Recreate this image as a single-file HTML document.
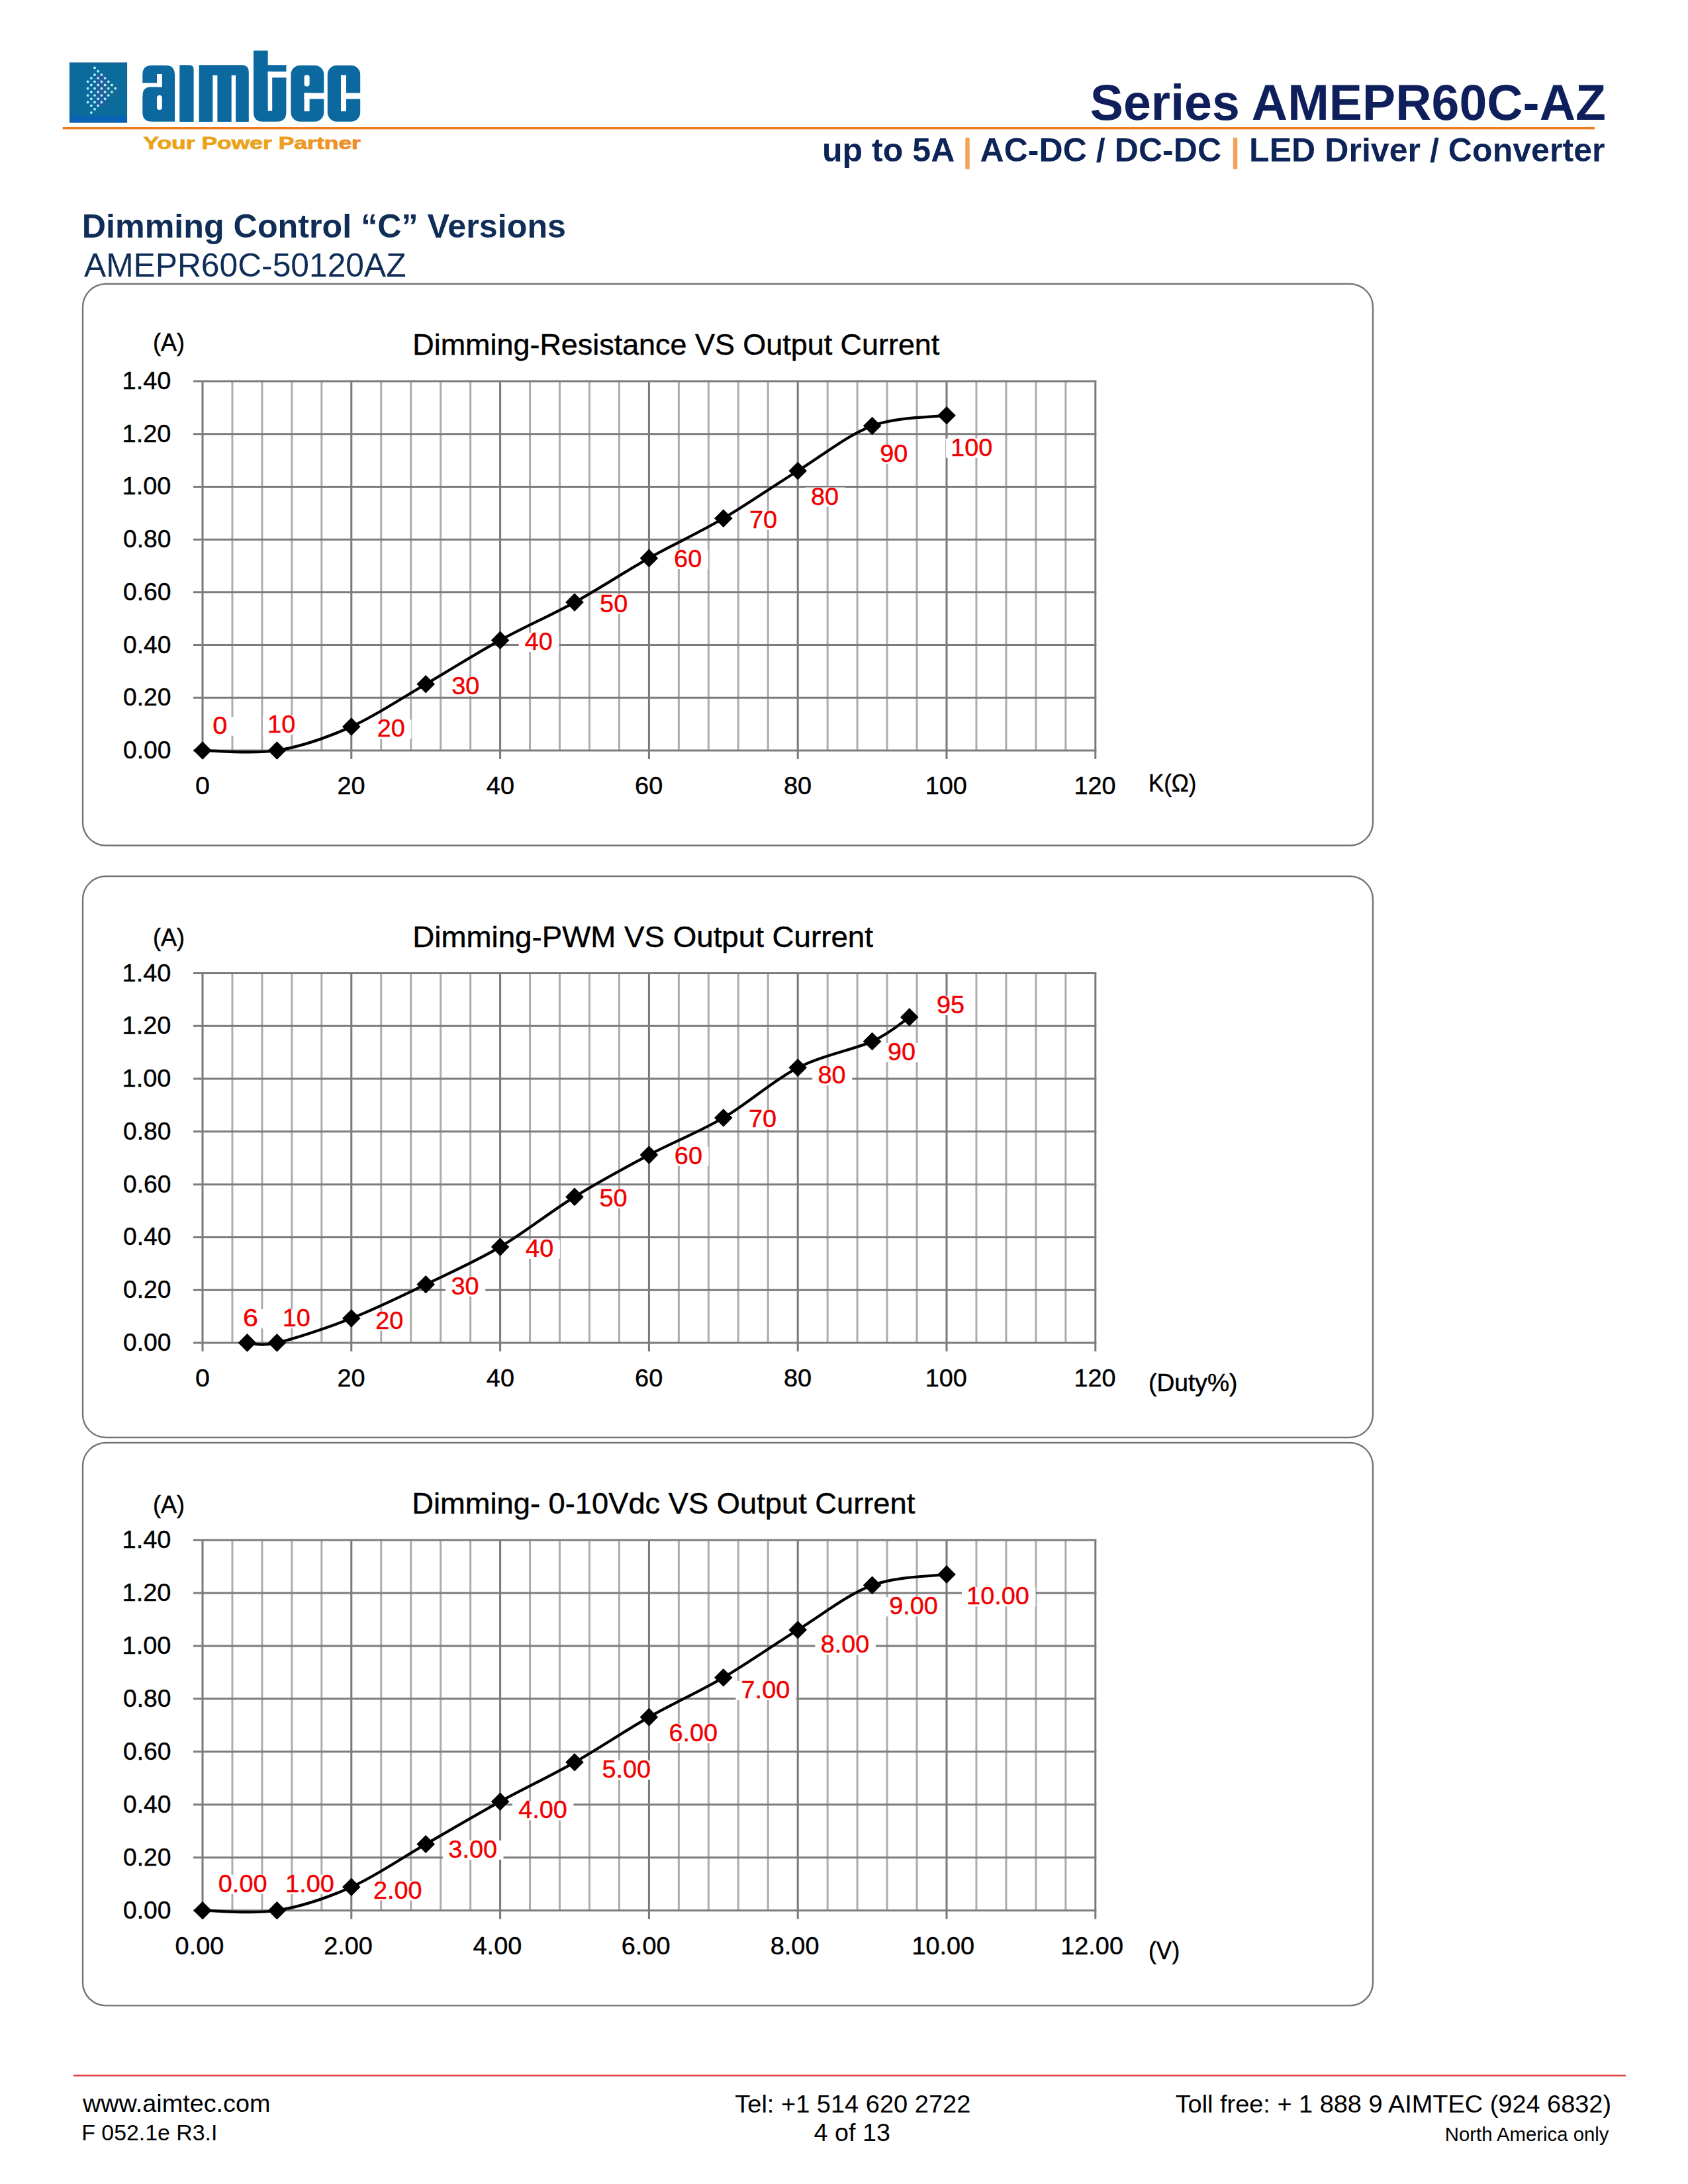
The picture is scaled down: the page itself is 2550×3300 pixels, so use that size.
<!DOCTYPE html><html><head><meta charset="utf-8"><style>html,body{margin:0;padding:0;background:#fff;overflow:hidden;} svg{display:block;} text{font-family:"Liberation Sans",sans-serif;}</style></head><body>
<svg width="2550" height="3300" viewBox="0 0 2550 3300">
<rect width="2550" height="3300" fill="#fff"/>
<g id="logo">
<rect x="105.5" y="95" width="86" height="90" fill="#0b6c9c"/>
<rect x="105.5" y="176" width="86" height="8" fill="#0a62b8"/>
<rect x="105.5" y="95" width="86" height="90" fill="none" stroke="#1b5f93" stroke-width="1.2"/>
<rect x="144" y="112" width="16" height="48" fill="#2a5c9e" opacity="0.8"/>
<rect x="160" y="125" width="16" height="22" fill="#1f6a8a" opacity="0.6"/>
<circle cx="143.0" cy="102.5" r="1.9" fill="#b4f2ff"/>
<circle cx="148.2" cy="107.7" r="1.9" fill="#b4f2ff"/>
<circle cx="143.0" cy="112.9" r="1.9" fill="#b4f2ff"/>
<circle cx="137.8" cy="118.1" r="1.9" fill="#b4f2ff"/>
<circle cx="132.6" cy="123.3" r="1.9" fill="#b4f2ff"/>
<circle cx="153.4" cy="112.9" r="1.9" fill="#b4f2ff"/>
<circle cx="148.2" cy="118.1" r="1.9" fill="#b4f2ff"/>
<circle cx="143.0" cy="123.3" r="1.9" fill="#b4f2ff"/>
<circle cx="137.8" cy="128.5" r="1.9" fill="#b4f2ff"/>
<circle cx="132.6" cy="133.7" r="1.9" fill="#b4f2ff"/>
<circle cx="158.6" cy="118.1" r="1.9" fill="#b4f2ff"/>
<circle cx="153.4" cy="123.3" r="1.9" fill="#b4f2ff"/>
<circle cx="148.2" cy="128.5" r="1.9" fill="#b4f2ff"/>
<circle cx="143.0" cy="133.7" r="1.9" fill="#b4f2ff"/>
<circle cx="137.8" cy="138.9" r="1.9" fill="#b4f2ff"/>
<circle cx="132.6" cy="144.1" r="1.9" fill="#b4f2ff"/>
<circle cx="163.8" cy="123.3" r="1.9" fill="#b4f2ff"/>
<circle cx="158.6" cy="128.5" r="1.9" fill="#b4f2ff"/>
<circle cx="153.4" cy="133.7" r="1.9" fill="#b4f2ff"/>
<circle cx="148.2" cy="138.9" r="1.9" fill="#b4f2ff"/>
<circle cx="143.0" cy="144.1" r="1.9" fill="#b4f2ff"/>
<circle cx="137.8" cy="149.3" r="1.9" fill="#b4f2ff"/>
<circle cx="132.6" cy="154.5" r="1.9" fill="#b4f2ff"/>
<circle cx="169.0" cy="128.5" r="1.9" fill="#b4f2ff"/>
<circle cx="163.8" cy="133.7" r="1.9" fill="#b4f2ff"/>
<circle cx="158.6" cy="138.9" r="1.9" fill="#b4f2ff"/>
<circle cx="153.4" cy="144.1" r="1.9" fill="#b4f2ff"/>
<circle cx="148.2" cy="149.3" r="1.9" fill="#b4f2ff"/>
<circle cx="143.0" cy="154.5" r="1.9" fill="#b4f2ff"/>
<circle cx="137.8" cy="159.7" r="1.9" fill="#b4f2ff"/>
<circle cx="174.2" cy="133.7" r="1.9" fill="#b4f2ff"/>
<circle cx="169.0" cy="138.9" r="1.9" fill="#b4f2ff"/>
<circle cx="163.8" cy="144.1" r="1.9" fill="#b4f2ff"/>
<circle cx="158.6" cy="149.3" r="1.9" fill="#b4f2ff"/>
<circle cx="153.4" cy="154.5" r="1.9" fill="#b4f2ff"/>
<circle cx="148.2" cy="159.7" r="1.9" fill="#b4f2ff"/>
<circle cx="143.0" cy="164.9" r="1.9" fill="#b4f2ff"/>
<circle cx="137.8" cy="170.1" r="1.9" fill="#b4f2ff"/>
</g>
<path d="M215.3,112.7 Q215.3,98.7 229.3,98.7 L250.1,98.7 Q264.1,98.7 264.1,112.7 L264.1,183.8 L229.3,183.8 Q215.3,183.8 215.3,169.8 Z" fill="#0b69a0"/>
<rect x="237" y="112" width="7.80" height="19.40" rx="0" fill="#ffffff"/>
<rect x="213" y="125.3" width="31.80" height="6.10" rx="0" fill="#ffffff"/>
<path d="M213,131 L229,131 Q215.3,131 215.3,145 L213,145 Z" fill="#ffffff"/>
<rect x="237" y="144" width="7.80" height="22.00" rx="3.8" fill="#ffffff"/>
<path d="M271.3,98.3 L286,98.3 Q292.6,98.3 292.6,105 L292.6,184 L271.3,184 Z" fill="#0b69a0"/>
<path d="M300.6,98.3 L365,98.3 Q375.8,98.3 375.8,109 L375.8,184 L300.6,184 Z" fill="#0b69a0"/>
<rect x="321.4" y="113.7" width="7.00" height="72.30" rx="0" fill="#ffffff"/>
<rect x="349.7" y="113.7" width="6.40" height="72.30" rx="0" fill="#ffffff"/>
<path d="M383,76.5 L404.7,76.5 L404.7,98.2 L432.4,98.2 L432.4,108.3 L404.7,108.3 L404.7,117.3 L432.4,117.3 L432.4,169.8 Q432.4,183.8 418.4,183.8 L397,183.8 Q383,183.8 383,169.8 Z" fill="#0b69a0"/>
<rect x="404.7" y="108.3" width="6.50" height="59.40" rx="0" fill="#ffffff"/>
<rect x="439.4" y="98.7" width="49.90" height="85.10" rx="14" ry="14" fill="#0b69a0"/>
<rect x="459.6" y="113.3" width="8.00" height="17.10" rx="3.5" fill="#ffffff"/>
<rect x="459.6" y="140.5" width="32.40" height="9.10" rx="0" fill="#ffffff"/>
<rect x="459.6" y="140.5" width="8.00" height="27.70" rx="0" fill="#ffffff"/>
<rect x="494.8" y="98.7" width="49.40" height="85.10" rx="14" ry="14" fill="#0b69a0"/>
<rect x="515" y="113.3" width="8.00" height="54.90" rx="0" fill="#ffffff"/>
<rect x="523" y="140.5" width="23.00" height="9.10" rx="0" fill="#ffffff"/>
<rect x="94.7" y="192" width="2314.5" height="3.4" fill="#ee7b1e"/>
<defs><linearGradient id="gold" x1="0" x2="1" y1="0" y2="0"><stop offset="0" stop-color="#e9a31a"/><stop offset="0.55" stop-color="#eba21d"/><stop offset="1" stop-color="#f08a2a"/></linearGradient></defs>
<text x="216.40" y="225.30" font-size="26.5" font-weight="bold" fill="url(#gold)" textLength="328.53" lengthAdjust="spacingAndGlyphs" stroke="url(#gold)" stroke-width="0.8">Your Power Partner</text>
<text x="1646.84" y="180.60" font-size="75.5" font-weight="bold" fill="#0e1f5c" textLength="779.12" lengthAdjust="spacingAndGlyphs" >Series AMEPR60C-AZ</text>
<text x="1241.90" y="243.5" font-size="50" font-weight="bold" xml:space="preserve" textLength="1182.65" lengthAdjust="spacingAndGlyphs"><tspan fill="#0d2458">up to 5A </tspan><tspan fill="#f3a25b">|</tspan><tspan fill="#0d2458"> AC-DC / DC-DC </tspan><tspan fill="#f3a25b">|</tspan><tspan fill="#0d2458"> LED Driver / Converter</tspan></text>
<text x="123.75" y="359.20" font-size="50.5" font-weight="bold" fill="#0f2d56" textLength="731.30" lengthAdjust="spacingAndGlyphs" >Dimming Control “C” Versions</text>
<text x="127.00" y="417.60" font-size="50" font-weight="normal" fill="#0f2d56" textLength="486.55" lengthAdjust="spacingAndGlyphs" >AMEPR60C-50120AZ</text>
<rect x="125" y="429" width="1949" height="848.5" rx="35" ry="35" fill="none" stroke="#747474" stroke-width="2.4"/>
<line x1="306.00" y1="576.00" x2="306.00" y2="1147.00" stroke="#787878" stroke-width="3"/>
<line x1="350.96" y1="576.00" x2="350.96" y2="1134.00" stroke="#acacac" stroke-width="3"/>
<line x1="395.92" y1="576.00" x2="395.92" y2="1134.00" stroke="#acacac" stroke-width="3"/>
<line x1="440.88" y1="576.00" x2="440.88" y2="1134.00" stroke="#acacac" stroke-width="3"/>
<line x1="485.84" y1="576.00" x2="485.84" y2="1134.00" stroke="#acacac" stroke-width="3"/>
<line x1="530.80" y1="576.00" x2="530.80" y2="1147.00" stroke="#787878" stroke-width="3"/>
<line x1="575.76" y1="576.00" x2="575.76" y2="1134.00" stroke="#acacac" stroke-width="3"/>
<line x1="620.72" y1="576.00" x2="620.72" y2="1134.00" stroke="#acacac" stroke-width="3"/>
<line x1="665.68" y1="576.00" x2="665.68" y2="1134.00" stroke="#acacac" stroke-width="3"/>
<line x1="710.64" y1="576.00" x2="710.64" y2="1134.00" stroke="#acacac" stroke-width="3"/>
<line x1="755.60" y1="576.00" x2="755.60" y2="1147.00" stroke="#787878" stroke-width="3"/>
<line x1="800.56" y1="576.00" x2="800.56" y2="1134.00" stroke="#acacac" stroke-width="3"/>
<line x1="845.52" y1="576.00" x2="845.52" y2="1134.00" stroke="#acacac" stroke-width="3"/>
<line x1="890.48" y1="576.00" x2="890.48" y2="1134.00" stroke="#acacac" stroke-width="3"/>
<line x1="935.44" y1="576.00" x2="935.44" y2="1134.00" stroke="#acacac" stroke-width="3"/>
<line x1="980.40" y1="576.00" x2="980.40" y2="1147.00" stroke="#787878" stroke-width="3"/>
<line x1="1025.36" y1="576.00" x2="1025.36" y2="1134.00" stroke="#acacac" stroke-width="3"/>
<line x1="1070.32" y1="576.00" x2="1070.32" y2="1134.00" stroke="#acacac" stroke-width="3"/>
<line x1="1115.28" y1="576.00" x2="1115.28" y2="1134.00" stroke="#acacac" stroke-width="3"/>
<line x1="1160.24" y1="576.00" x2="1160.24" y2="1134.00" stroke="#acacac" stroke-width="3"/>
<line x1="1205.20" y1="576.00" x2="1205.20" y2="1147.00" stroke="#787878" stroke-width="3"/>
<line x1="1250.16" y1="576.00" x2="1250.16" y2="1134.00" stroke="#acacac" stroke-width="3"/>
<line x1="1295.12" y1="576.00" x2="1295.12" y2="1134.00" stroke="#acacac" stroke-width="3"/>
<line x1="1340.08" y1="576.00" x2="1340.08" y2="1134.00" stroke="#acacac" stroke-width="3"/>
<line x1="1385.04" y1="576.00" x2="1385.04" y2="1134.00" stroke="#acacac" stroke-width="3"/>
<line x1="1430.00" y1="576.00" x2="1430.00" y2="1147.00" stroke="#787878" stroke-width="3"/>
<line x1="1474.96" y1="576.00" x2="1474.96" y2="1134.00" stroke="#acacac" stroke-width="3"/>
<line x1="1519.92" y1="576.00" x2="1519.92" y2="1134.00" stroke="#acacac" stroke-width="3"/>
<line x1="1564.88" y1="576.00" x2="1564.88" y2="1134.00" stroke="#acacac" stroke-width="3"/>
<line x1="1609.84" y1="576.00" x2="1609.84" y2="1134.00" stroke="#acacac" stroke-width="3"/>
<line x1="1654.80" y1="576.00" x2="1654.80" y2="1147.00" stroke="#787878" stroke-width="3"/>
<line x1="292" y1="576.00" x2="1656.30" y2="576.00" stroke="#7c7c7c" stroke-width="3"/>
<line x1="292" y1="655.71" x2="1656.30" y2="655.71" stroke="#7c7c7c" stroke-width="3"/>
<line x1="292" y1="735.43" x2="1656.30" y2="735.43" stroke="#7c7c7c" stroke-width="3"/>
<line x1="292" y1="815.14" x2="1656.30" y2="815.14" stroke="#7c7c7c" stroke-width="3"/>
<line x1="292" y1="894.86" x2="1656.30" y2="894.86" stroke="#7c7c7c" stroke-width="3"/>
<line x1="292" y1="974.57" x2="1656.30" y2="974.57" stroke="#7c7c7c" stroke-width="3"/>
<line x1="292" y1="1054.29" x2="1656.30" y2="1054.29" stroke="#7c7c7c" stroke-width="3"/>
<line x1="292" y1="1134.00" x2="1656.30" y2="1134.00" stroke="#7c7c7c" stroke-width="3"/>
<text x="186.05" y="1146.00" font-size="37.5" font-weight="normal" fill="#000" textLength="72.41" lengthAdjust="spacingAndGlyphs"  stroke="#000" stroke-width="0.45">0.00</text>
<text x="186.05" y="1066.29" font-size="37.5" font-weight="normal" fill="#000" textLength="72.41" lengthAdjust="spacingAndGlyphs"  stroke="#000" stroke-width="0.45">0.20</text>
<text x="186.05" y="986.57" font-size="37.5" font-weight="normal" fill="#000" textLength="72.41" lengthAdjust="spacingAndGlyphs"  stroke="#000" stroke-width="0.45">0.40</text>
<text x="186.05" y="906.86" font-size="37.5" font-weight="normal" fill="#000" textLength="72.41" lengthAdjust="spacingAndGlyphs"  stroke="#000" stroke-width="0.45">0.60</text>
<text x="186.05" y="827.14" font-size="37.5" font-weight="normal" fill="#000" textLength="72.41" lengthAdjust="spacingAndGlyphs"  stroke="#000" stroke-width="0.45">0.80</text>
<text x="184.61" y="747.43" font-size="37.5" font-weight="normal" fill="#000" textLength="73.87" lengthAdjust="spacingAndGlyphs"  stroke="#000" stroke-width="0.45">1.00</text>
<text x="184.61" y="667.71" font-size="37.5" font-weight="normal" fill="#000" textLength="73.87" lengthAdjust="spacingAndGlyphs"  stroke="#000" stroke-width="0.45">1.20</text>
<text x="184.61" y="588.00" font-size="37.5" font-weight="normal" fill="#000" textLength="73.87" lengthAdjust="spacingAndGlyphs"  stroke="#000" stroke-width="0.45">1.40</text>
<text x="295.06" y="1200.30" font-size="37.5" font-weight="normal" fill="#000" textLength="21.87" lengthAdjust="spacingAndGlyphs"  stroke="#000" stroke-width="0.45">0</text>
<text x="509.52" y="1200.30" font-size="37.5" font-weight="normal" fill="#000" textLength="42.13" lengthAdjust="spacingAndGlyphs"  stroke="#000" stroke-width="0.45">20</text>
<text x="734.84" y="1200.30" font-size="37.5" font-weight="normal" fill="#000" textLength="42.13" lengthAdjust="spacingAndGlyphs"  stroke="#000" stroke-width="0.45">40</text>
<text x="959.11" y="1200.30" font-size="37.5" font-weight="normal" fill="#000" textLength="42.13" lengthAdjust="spacingAndGlyphs"  stroke="#000" stroke-width="0.45">60</text>
<text x="1184.05" y="1200.30" font-size="37.5" font-weight="normal" fill="#000" textLength="42.13" lengthAdjust="spacingAndGlyphs"  stroke="#000" stroke-width="0.45">80</text>
<text x="1397.70" y="1200.30" font-size="37.5" font-weight="normal" fill="#000" textLength="63.19" lengthAdjust="spacingAndGlyphs"  stroke="#000" stroke-width="0.45">100</text>
<text x="1622.50" y="1200.30" font-size="37.5" font-weight="normal" fill="#000" textLength="63.19" lengthAdjust="spacingAndGlyphs"  stroke="#000" stroke-width="0.45">120</text>
<text x="623.32" y="536.20" font-size="45" font-weight="normal" fill="#000" textLength="796.01" lengthAdjust="spacingAndGlyphs"  stroke="#000" stroke-width="0.45">Dimming-Resistance VS Output Current</text>
<text x="230.97" y="530.00" font-size="36" font-weight="normal" fill="#000" textLength="47.96" lengthAdjust="spacingAndGlyphs"  stroke="#000" stroke-width="0.45">(A)</text>
<text x="1734.94" y="1196.20" font-size="36" font-weight="normal" fill="#000" textLength="72.52" lengthAdjust="spacingAndGlyphs"  stroke="#000" stroke-width="0.45">K(Ω)</text>
<rect x="312.80" y="1083.20" width="40.00" height="29.00" fill="#fff"/>
<rect x="397.00" y="1081.00" width="58.76" height="29.00" fill="#fff"/>
<rect x="561.70" y="1087.40" width="59.74" height="29.00" fill="#fff"/>
<rect x="673.70" y="1023.00" width="60.21" height="29.00" fill="#fff"/>
<rect x="783.60" y="956.00" width="60.78" height="29.00" fill="#fff"/>
<rect x="897.60" y="898.70" width="60.13" height="29.00" fill="#fff"/>
<rect x="1010.00" y="831.00" width="59.73" height="29.00" fill="#fff"/>
<rect x="1124.00" y="771.70" width="59.71" height="29.00" fill="#fff"/>
<rect x="1216.60" y="736.50" width="60.00" height="29.00" fill="#fff"/>
<rect x="1321.00" y="672.20" width="59.87" height="29.00" fill="#fff"/>
<rect x="1429.00" y="662.70" width="79.83" height="29.00" fill="#fff"/>
<path d="M306.00,1134.00 C324.73,1134.00 380.93,1140.00 418.40,1134.00 C455.87,1128.00 493.33,1114.72 530.80,1098.00 C568.27,1081.28 605.73,1055.47 643.20,1033.70 C680.67,1011.93 718.13,988.00 755.60,967.40 C793.07,946.80 830.53,930.77 868.00,910.10 C905.47,889.43 942.93,864.55 980.40,843.40 C1017.87,822.25 1055.33,805.18 1092.80,783.20 C1130.27,761.22 1167.73,734.78 1205.20,711.50 C1242.67,688.22 1280.13,657.47 1317.60,643.50 C1355.07,629.53 1411.27,630.33 1430.00,627.70" fill="none" stroke="#000" stroke-width="4.2" stroke-linejoin="round"/>
<path d="M306.00,1120.20 L319.80,1134.00 L306.00,1147.80 L292.20,1134.00 Z" fill="#000"/>
<path d="M418.40,1120.20 L432.20,1134.00 L418.40,1147.80 L404.60,1134.00 Z" fill="#000"/>
<path d="M530.80,1084.20 L544.60,1098.00 L530.80,1111.80 L517.00,1098.00 Z" fill="#000"/>
<path d="M643.20,1019.90 L657.00,1033.70 L643.20,1047.50 L629.40,1033.70 Z" fill="#000"/>
<path d="M755.60,953.60 L769.40,967.40 L755.60,981.20 L741.80,967.40 Z" fill="#000"/>
<path d="M868.00,896.30 L881.80,910.10 L868.00,923.90 L854.20,910.10 Z" fill="#000"/>
<path d="M980.40,829.60 L994.20,843.40 L980.40,857.20 L966.60,843.40 Z" fill="#000"/>
<path d="M1092.80,769.40 L1106.60,783.20 L1092.80,797.00 L1079.00,783.20 Z" fill="#000"/>
<path d="M1205.20,697.70 L1219.00,711.50 L1205.20,725.30 L1191.40,711.50 Z" fill="#000"/>
<path d="M1317.60,629.70 L1331.40,643.50 L1317.60,657.30 L1303.80,643.50 Z" fill="#000"/>
<path d="M1430.00,613.90 L1443.80,627.70 L1430.00,641.50 L1416.20,627.70 Z" fill="#000"/>
<text x="321.25" y="1109.20" font-size="37.5" font-weight="normal" fill="#f00000" textLength="22.11" lengthAdjust="spacingAndGlyphs"  stroke="#f00000" stroke-width="0.45">0</text>
<text x="404.11" y="1107.00" font-size="37.5" font-weight="normal" fill="#f00000" textLength="42.13" lengthAdjust="spacingAndGlyphs"  stroke="#f00000" stroke-width="0.45">10</text>
<text x="569.80" y="1113.40" font-size="37.5" font-weight="normal" fill="#f00000" textLength="42.13" lengthAdjust="spacingAndGlyphs"  stroke="#f00000" stroke-width="0.45">20</text>
<text x="682.26" y="1049.00" font-size="37.5" font-weight="normal" fill="#f00000" textLength="42.13" lengthAdjust="spacingAndGlyphs"  stroke="#f00000" stroke-width="0.45">30</text>
<text x="792.73" y="982.00" font-size="37.5" font-weight="normal" fill="#f00000" textLength="42.13" lengthAdjust="spacingAndGlyphs"  stroke="#f00000" stroke-width="0.45">40</text>
<text x="906.08" y="924.70" font-size="37.5" font-weight="normal" fill="#f00000" textLength="42.13" lengthAdjust="spacingAndGlyphs"  stroke="#f00000" stroke-width="0.45">50</text>
<text x="1018.08" y="857.00" font-size="37.5" font-weight="normal" fill="#f00000" textLength="42.13" lengthAdjust="spacingAndGlyphs"  stroke="#f00000" stroke-width="0.45">60</text>
<text x="1132.06" y="797.70" font-size="37.5" font-weight="normal" fill="#f00000" textLength="42.13" lengthAdjust="spacingAndGlyphs"  stroke="#f00000" stroke-width="0.45">70</text>
<text x="1224.95" y="762.50" font-size="37.5" font-weight="normal" fill="#f00000" textLength="42.13" lengthAdjust="spacingAndGlyphs"  stroke="#f00000" stroke-width="0.45">80</text>
<text x="1329.22" y="698.20" font-size="37.5" font-weight="normal" fill="#f00000" textLength="42.13" lengthAdjust="spacingAndGlyphs"  stroke="#f00000" stroke-width="0.45">90</text>
<text x="1436.11" y="688.70" font-size="37.5" font-weight="normal" fill="#f00000" textLength="63.19" lengthAdjust="spacingAndGlyphs"  stroke="#f00000" stroke-width="0.45">100</text>
<rect x="125" y="1324" width="1949" height="848" rx="35" ry="35" fill="none" stroke="#747474" stroke-width="2.4"/>
<line x1="306.00" y1="1470.60" x2="306.00" y2="2041.90" stroke="#787878" stroke-width="3"/>
<line x1="350.96" y1="1470.60" x2="350.96" y2="2028.90" stroke="#acacac" stroke-width="3"/>
<line x1="395.92" y1="1470.60" x2="395.92" y2="2028.90" stroke="#acacac" stroke-width="3"/>
<line x1="440.88" y1="1470.60" x2="440.88" y2="2028.90" stroke="#acacac" stroke-width="3"/>
<line x1="485.84" y1="1470.60" x2="485.84" y2="2028.90" stroke="#acacac" stroke-width="3"/>
<line x1="530.80" y1="1470.60" x2="530.80" y2="2041.90" stroke="#787878" stroke-width="3"/>
<line x1="575.76" y1="1470.60" x2="575.76" y2="2028.90" stroke="#acacac" stroke-width="3"/>
<line x1="620.72" y1="1470.60" x2="620.72" y2="2028.90" stroke="#acacac" stroke-width="3"/>
<line x1="665.68" y1="1470.60" x2="665.68" y2="2028.90" stroke="#acacac" stroke-width="3"/>
<line x1="710.64" y1="1470.60" x2="710.64" y2="2028.90" stroke="#acacac" stroke-width="3"/>
<line x1="755.60" y1="1470.60" x2="755.60" y2="2041.90" stroke="#787878" stroke-width="3"/>
<line x1="800.56" y1="1470.60" x2="800.56" y2="2028.90" stroke="#acacac" stroke-width="3"/>
<line x1="845.52" y1="1470.60" x2="845.52" y2="2028.90" stroke="#acacac" stroke-width="3"/>
<line x1="890.48" y1="1470.60" x2="890.48" y2="2028.90" stroke="#acacac" stroke-width="3"/>
<line x1="935.44" y1="1470.60" x2="935.44" y2="2028.90" stroke="#acacac" stroke-width="3"/>
<line x1="980.40" y1="1470.60" x2="980.40" y2="2041.90" stroke="#787878" stroke-width="3"/>
<line x1="1025.36" y1="1470.60" x2="1025.36" y2="2028.90" stroke="#acacac" stroke-width="3"/>
<line x1="1070.32" y1="1470.60" x2="1070.32" y2="2028.90" stroke="#acacac" stroke-width="3"/>
<line x1="1115.28" y1="1470.60" x2="1115.28" y2="2028.90" stroke="#acacac" stroke-width="3"/>
<line x1="1160.24" y1="1470.60" x2="1160.24" y2="2028.90" stroke="#acacac" stroke-width="3"/>
<line x1="1205.20" y1="1470.60" x2="1205.20" y2="2041.90" stroke="#787878" stroke-width="3"/>
<line x1="1250.16" y1="1470.60" x2="1250.16" y2="2028.90" stroke="#acacac" stroke-width="3"/>
<line x1="1295.12" y1="1470.60" x2="1295.12" y2="2028.90" stroke="#acacac" stroke-width="3"/>
<line x1="1340.08" y1="1470.60" x2="1340.08" y2="2028.90" stroke="#acacac" stroke-width="3"/>
<line x1="1385.04" y1="1470.60" x2="1385.04" y2="2028.90" stroke="#acacac" stroke-width="3"/>
<line x1="1430.00" y1="1470.60" x2="1430.00" y2="2041.90" stroke="#787878" stroke-width="3"/>
<line x1="1474.96" y1="1470.60" x2="1474.96" y2="2028.90" stroke="#acacac" stroke-width="3"/>
<line x1="1519.92" y1="1470.60" x2="1519.92" y2="2028.90" stroke="#acacac" stroke-width="3"/>
<line x1="1564.88" y1="1470.60" x2="1564.88" y2="2028.90" stroke="#acacac" stroke-width="3"/>
<line x1="1609.84" y1="1470.60" x2="1609.84" y2="2028.90" stroke="#acacac" stroke-width="3"/>
<line x1="1654.80" y1="1470.60" x2="1654.80" y2="2041.90" stroke="#787878" stroke-width="3"/>
<line x1="292" y1="1470.60" x2="1656.30" y2="1470.60" stroke="#7c7c7c" stroke-width="3"/>
<line x1="292" y1="1550.36" x2="1656.30" y2="1550.36" stroke="#7c7c7c" stroke-width="3"/>
<line x1="292" y1="1630.11" x2="1656.30" y2="1630.11" stroke="#7c7c7c" stroke-width="3"/>
<line x1="292" y1="1709.87" x2="1656.30" y2="1709.87" stroke="#7c7c7c" stroke-width="3"/>
<line x1="292" y1="1789.63" x2="1656.30" y2="1789.63" stroke="#7c7c7c" stroke-width="3"/>
<line x1="292" y1="1869.39" x2="1656.30" y2="1869.39" stroke="#7c7c7c" stroke-width="3"/>
<line x1="292" y1="1949.14" x2="1656.30" y2="1949.14" stroke="#7c7c7c" stroke-width="3"/>
<line x1="292" y1="2028.90" x2="1656.30" y2="2028.90" stroke="#7c7c7c" stroke-width="3"/>
<text x="186.05" y="2040.90" font-size="37.5" font-weight="normal" fill="#000" textLength="72.41" lengthAdjust="spacingAndGlyphs"  stroke="#000" stroke-width="0.45">0.00</text>
<text x="186.05" y="1961.14" font-size="37.5" font-weight="normal" fill="#000" textLength="72.41" lengthAdjust="spacingAndGlyphs"  stroke="#000" stroke-width="0.45">0.20</text>
<text x="186.05" y="1881.39" font-size="37.5" font-weight="normal" fill="#000" textLength="72.41" lengthAdjust="spacingAndGlyphs"  stroke="#000" stroke-width="0.45">0.40</text>
<text x="186.05" y="1801.63" font-size="37.5" font-weight="normal" fill="#000" textLength="72.41" lengthAdjust="spacingAndGlyphs"  stroke="#000" stroke-width="0.45">0.60</text>
<text x="186.05" y="1721.87" font-size="37.5" font-weight="normal" fill="#000" textLength="72.41" lengthAdjust="spacingAndGlyphs"  stroke="#000" stroke-width="0.45">0.80</text>
<text x="184.61" y="1642.11" font-size="37.5" font-weight="normal" fill="#000" textLength="73.87" lengthAdjust="spacingAndGlyphs"  stroke="#000" stroke-width="0.45">1.00</text>
<text x="184.61" y="1562.36" font-size="37.5" font-weight="normal" fill="#000" textLength="73.87" lengthAdjust="spacingAndGlyphs"  stroke="#000" stroke-width="0.45">1.20</text>
<text x="184.61" y="1482.60" font-size="37.5" font-weight="normal" fill="#000" textLength="73.87" lengthAdjust="spacingAndGlyphs"  stroke="#000" stroke-width="0.45">1.40</text>
<text x="295.06" y="2095.00" font-size="37.5" font-weight="normal" fill="#000" textLength="21.87" lengthAdjust="spacingAndGlyphs"  stroke="#000" stroke-width="0.45">0</text>
<text x="509.52" y="2095.00" font-size="37.5" font-weight="normal" fill="#000" textLength="42.13" lengthAdjust="spacingAndGlyphs"  stroke="#000" stroke-width="0.45">20</text>
<text x="734.84" y="2095.00" font-size="37.5" font-weight="normal" fill="#000" textLength="42.13" lengthAdjust="spacingAndGlyphs"  stroke="#000" stroke-width="0.45">40</text>
<text x="959.11" y="2095.00" font-size="37.5" font-weight="normal" fill="#000" textLength="42.13" lengthAdjust="spacingAndGlyphs"  stroke="#000" stroke-width="0.45">60</text>
<text x="1184.05" y="2095.00" font-size="37.5" font-weight="normal" fill="#000" textLength="42.13" lengthAdjust="spacingAndGlyphs"  stroke="#000" stroke-width="0.45">80</text>
<text x="1397.70" y="2095.00" font-size="37.5" font-weight="normal" fill="#000" textLength="63.19" lengthAdjust="spacingAndGlyphs"  stroke="#000" stroke-width="0.45">100</text>
<text x="1622.50" y="2095.00" font-size="37.5" font-weight="normal" fill="#000" textLength="63.19" lengthAdjust="spacingAndGlyphs"  stroke="#000" stroke-width="0.45">120</text>
<text x="623.25" y="1430.50" font-size="45" font-weight="normal" fill="#000" textLength="695.68" lengthAdjust="spacingAndGlyphs"  stroke="#000" stroke-width="0.45">Dimming-PWM VS Output Current</text>
<text x="230.97" y="1429.30" font-size="36" font-weight="normal" fill="#000" textLength="47.96" lengthAdjust="spacingAndGlyphs"  stroke="#000" stroke-width="0.45">(A)</text>
<text x="1734.99" y="2101.60" font-size="36" font-weight="normal" fill="#000" textLength="134.52" lengthAdjust="spacingAndGlyphs"  stroke="#000" stroke-width="0.45">(Duty%)</text>
<rect x="359.00" y="1978.20" width="40.00" height="29.00" fill="#fff"/>
<rect x="419.60" y="1978.20" width="58.76" height="29.00" fill="#fff"/>
<rect x="559.20" y="1981.70" width="59.74" height="29.00" fill="#fff"/>
<rect x="673.00" y="1930.00" width="60.21" height="29.00" fill="#fff"/>
<rect x="785.00" y="1873.00" width="60.78" height="29.00" fill="#fff"/>
<rect x="897.00" y="1796.60" width="60.13" height="29.00" fill="#fff"/>
<rect x="1010.80" y="1732.70" width="59.73" height="29.00" fill="#fff"/>
<rect x="1123.00" y="1677.30" width="59.71" height="29.00" fill="#fff"/>
<rect x="1227.20" y="1611.10" width="60.00" height="29.00" fill="#fff"/>
<rect x="1332.80" y="1576.00" width="59.87" height="29.00" fill="#fff"/>
<rect x="1406.80" y="1504.80" width="59.76" height="29.00" fill="#fff"/>
<path d="M373.44,2028.90 C380.93,2028.90 392.17,2035.05 418.40,2028.90 C444.63,2022.75 493.33,2006.70 530.80,1992.00 C568.27,1977.30 605.73,1958.68 643.20,1940.70 C680.67,1922.72 718.13,1906.15 755.60,1884.10 C793.07,1862.05 830.53,1831.57 868.00,1808.40 C905.47,1785.23 942.93,1765.00 980.40,1745.10 C1017.87,1725.20 1055.33,1710.97 1092.80,1689.00 C1130.27,1667.03 1167.73,1632.55 1205.20,1613.30 C1242.67,1594.05 1289.50,1586.23 1317.60,1573.50 C1345.70,1560.77 1364.43,1543.00 1373.80,1536.90" fill="none" stroke="#000" stroke-width="4.2" stroke-linejoin="round"/>
<path d="M373.44,2015.10 L387.24,2028.90 L373.44,2042.70 L359.64,2028.90 Z" fill="#000"/>
<path d="M418.40,2015.10 L432.20,2028.90 L418.40,2042.70 L404.60,2028.90 Z" fill="#000"/>
<path d="M530.80,1978.20 L544.60,1992.00 L530.80,2005.80 L517.00,1992.00 Z" fill="#000"/>
<path d="M643.20,1926.90 L657.00,1940.70 L643.20,1954.50 L629.40,1940.70 Z" fill="#000"/>
<path d="M755.60,1870.30 L769.40,1884.10 L755.60,1897.90 L741.80,1884.10 Z" fill="#000"/>
<path d="M868.00,1794.60 L881.80,1808.40 L868.00,1822.20 L854.20,1808.40 Z" fill="#000"/>
<path d="M980.40,1731.30 L994.20,1745.10 L980.40,1758.90 L966.60,1745.10 Z" fill="#000"/>
<path d="M1092.80,1675.20 L1106.60,1689.00 L1092.80,1702.80 L1079.00,1689.00 Z" fill="#000"/>
<path d="M1205.20,1599.50 L1219.00,1613.30 L1205.20,1627.10 L1191.40,1613.30 Z" fill="#000"/>
<path d="M1317.60,1559.70 L1331.40,1573.50 L1317.60,1587.30 L1303.80,1573.50 Z" fill="#000"/>
<path d="M1373.80,1523.10 L1387.60,1536.90 L1373.80,1550.70 L1360.00,1536.90 Z" fill="#000"/>
<text x="366.91" y="2004.20" font-size="37.5" font-weight="normal" fill="#f00000" textLength="22.90" lengthAdjust="spacingAndGlyphs"  stroke="#f00000" stroke-width="0.45">6</text>
<text x="426.71" y="2004.20" font-size="37.5" font-weight="normal" fill="#f00000" textLength="42.13" lengthAdjust="spacingAndGlyphs"  stroke="#f00000" stroke-width="0.45">10</text>
<text x="567.30" y="2007.70" font-size="37.5" font-weight="normal" fill="#f00000" textLength="42.13" lengthAdjust="spacingAndGlyphs"  stroke="#f00000" stroke-width="0.45">20</text>
<text x="681.56" y="1956.00" font-size="37.5" font-weight="normal" fill="#f00000" textLength="42.13" lengthAdjust="spacingAndGlyphs"  stroke="#f00000" stroke-width="0.45">30</text>
<text x="794.13" y="1899.00" font-size="37.5" font-weight="normal" fill="#f00000" textLength="42.13" lengthAdjust="spacingAndGlyphs"  stroke="#f00000" stroke-width="0.45">40</text>
<text x="905.48" y="1822.60" font-size="37.5" font-weight="normal" fill="#f00000" textLength="42.13" lengthAdjust="spacingAndGlyphs"  stroke="#f00000" stroke-width="0.45">50</text>
<text x="1018.88" y="1758.70" font-size="37.5" font-weight="normal" fill="#f00000" textLength="42.13" lengthAdjust="spacingAndGlyphs"  stroke="#f00000" stroke-width="0.45">60</text>
<text x="1131.06" y="1703.30" font-size="37.5" font-weight="normal" fill="#f00000" textLength="42.13" lengthAdjust="spacingAndGlyphs"  stroke="#f00000" stroke-width="0.45">70</text>
<text x="1235.55" y="1637.10" font-size="37.5" font-weight="normal" fill="#f00000" textLength="42.13" lengthAdjust="spacingAndGlyphs"  stroke="#f00000" stroke-width="0.45">80</text>
<text x="1341.02" y="1602.00" font-size="37.5" font-weight="normal" fill="#f00000" textLength="42.13" lengthAdjust="spacingAndGlyphs"  stroke="#f00000" stroke-width="0.45">90</text>
<text x="1415.02" y="1530.80" font-size="37.5" font-weight="normal" fill="#f00000" textLength="42.13" lengthAdjust="spacingAndGlyphs"  stroke="#f00000" stroke-width="0.45">95</text>
<rect x="125" y="2180" width="1949" height="850.4000000000001" rx="35" ry="35" fill="none" stroke="#747474" stroke-width="2.4"/>
<line x1="306.00" y1="2327.00" x2="306.00" y2="2899.70" stroke="#787878" stroke-width="3"/>
<line x1="350.96" y1="2327.00" x2="350.96" y2="2886.70" stroke="#acacac" stroke-width="3"/>
<line x1="395.92" y1="2327.00" x2="395.92" y2="2886.70" stroke="#acacac" stroke-width="3"/>
<line x1="440.88" y1="2327.00" x2="440.88" y2="2886.70" stroke="#acacac" stroke-width="3"/>
<line x1="485.84" y1="2327.00" x2="485.84" y2="2886.70" stroke="#acacac" stroke-width="3"/>
<line x1="530.80" y1="2327.00" x2="530.80" y2="2899.70" stroke="#787878" stroke-width="3"/>
<line x1="575.76" y1="2327.00" x2="575.76" y2="2886.70" stroke="#acacac" stroke-width="3"/>
<line x1="620.72" y1="2327.00" x2="620.72" y2="2886.70" stroke="#acacac" stroke-width="3"/>
<line x1="665.68" y1="2327.00" x2="665.68" y2="2886.70" stroke="#acacac" stroke-width="3"/>
<line x1="710.64" y1="2327.00" x2="710.64" y2="2886.70" stroke="#acacac" stroke-width="3"/>
<line x1="755.60" y1="2327.00" x2="755.60" y2="2899.70" stroke="#787878" stroke-width="3"/>
<line x1="800.56" y1="2327.00" x2="800.56" y2="2886.70" stroke="#acacac" stroke-width="3"/>
<line x1="845.52" y1="2327.00" x2="845.52" y2="2886.70" stroke="#acacac" stroke-width="3"/>
<line x1="890.48" y1="2327.00" x2="890.48" y2="2886.70" stroke="#acacac" stroke-width="3"/>
<line x1="935.44" y1="2327.00" x2="935.44" y2="2886.70" stroke="#acacac" stroke-width="3"/>
<line x1="980.40" y1="2327.00" x2="980.40" y2="2899.70" stroke="#787878" stroke-width="3"/>
<line x1="1025.36" y1="2327.00" x2="1025.36" y2="2886.70" stroke="#acacac" stroke-width="3"/>
<line x1="1070.32" y1="2327.00" x2="1070.32" y2="2886.70" stroke="#acacac" stroke-width="3"/>
<line x1="1115.28" y1="2327.00" x2="1115.28" y2="2886.70" stroke="#acacac" stroke-width="3"/>
<line x1="1160.24" y1="2327.00" x2="1160.24" y2="2886.70" stroke="#acacac" stroke-width="3"/>
<line x1="1205.20" y1="2327.00" x2="1205.20" y2="2899.70" stroke="#787878" stroke-width="3"/>
<line x1="1250.16" y1="2327.00" x2="1250.16" y2="2886.70" stroke="#acacac" stroke-width="3"/>
<line x1="1295.12" y1="2327.00" x2="1295.12" y2="2886.70" stroke="#acacac" stroke-width="3"/>
<line x1="1340.08" y1="2327.00" x2="1340.08" y2="2886.70" stroke="#acacac" stroke-width="3"/>
<line x1="1385.04" y1="2327.00" x2="1385.04" y2="2886.70" stroke="#acacac" stroke-width="3"/>
<line x1="1430.00" y1="2327.00" x2="1430.00" y2="2899.70" stroke="#787878" stroke-width="3"/>
<line x1="1474.96" y1="2327.00" x2="1474.96" y2="2886.70" stroke="#acacac" stroke-width="3"/>
<line x1="1519.92" y1="2327.00" x2="1519.92" y2="2886.70" stroke="#acacac" stroke-width="3"/>
<line x1="1564.88" y1="2327.00" x2="1564.88" y2="2886.70" stroke="#acacac" stroke-width="3"/>
<line x1="1609.84" y1="2327.00" x2="1609.84" y2="2886.70" stroke="#acacac" stroke-width="3"/>
<line x1="1654.80" y1="2327.00" x2="1654.80" y2="2899.70" stroke="#787878" stroke-width="3"/>
<line x1="292" y1="2327.00" x2="1656.30" y2="2327.00" stroke="#7c7c7c" stroke-width="3"/>
<line x1="292" y1="2406.96" x2="1656.30" y2="2406.96" stroke="#7c7c7c" stroke-width="3"/>
<line x1="292" y1="2486.91" x2="1656.30" y2="2486.91" stroke="#7c7c7c" stroke-width="3"/>
<line x1="292" y1="2566.87" x2="1656.30" y2="2566.87" stroke="#7c7c7c" stroke-width="3"/>
<line x1="292" y1="2646.83" x2="1656.30" y2="2646.83" stroke="#7c7c7c" stroke-width="3"/>
<line x1="292" y1="2726.79" x2="1656.30" y2="2726.79" stroke="#7c7c7c" stroke-width="3"/>
<line x1="292" y1="2806.74" x2="1656.30" y2="2806.74" stroke="#7c7c7c" stroke-width="3"/>
<line x1="292" y1="2886.70" x2="1656.30" y2="2886.70" stroke="#7c7c7c" stroke-width="3"/>
<text x="186.05" y="2898.70" font-size="37.5" font-weight="normal" fill="#000" textLength="72.41" lengthAdjust="spacingAndGlyphs"  stroke="#000" stroke-width="0.45">0.00</text>
<text x="186.05" y="2818.74" font-size="37.5" font-weight="normal" fill="#000" textLength="72.41" lengthAdjust="spacingAndGlyphs"  stroke="#000" stroke-width="0.45">0.20</text>
<text x="186.05" y="2738.79" font-size="37.5" font-weight="normal" fill="#000" textLength="72.41" lengthAdjust="spacingAndGlyphs"  stroke="#000" stroke-width="0.45">0.40</text>
<text x="186.05" y="2658.83" font-size="37.5" font-weight="normal" fill="#000" textLength="72.41" lengthAdjust="spacingAndGlyphs"  stroke="#000" stroke-width="0.45">0.60</text>
<text x="186.05" y="2578.87" font-size="37.5" font-weight="normal" fill="#000" textLength="72.41" lengthAdjust="spacingAndGlyphs"  stroke="#000" stroke-width="0.45">0.80</text>
<text x="184.61" y="2498.91" font-size="37.5" font-weight="normal" fill="#000" textLength="73.87" lengthAdjust="spacingAndGlyphs"  stroke="#000" stroke-width="0.45">1.00</text>
<text x="184.61" y="2418.96" font-size="37.5" font-weight="normal" fill="#000" textLength="73.87" lengthAdjust="spacingAndGlyphs"  stroke="#000" stroke-width="0.45">1.20</text>
<text x="184.61" y="2339.00" font-size="37.5" font-weight="normal" fill="#000" textLength="73.87" lengthAdjust="spacingAndGlyphs"  stroke="#000" stroke-width="0.45">1.40</text>
<text x="264.64" y="2953.10" font-size="37.5" font-weight="normal" fill="#000" textLength="73.72" lengthAdjust="spacingAndGlyphs"  stroke="#000" stroke-width="0.45">0.00</text>
<text x="489.23" y="2953.10" font-size="37.5" font-weight="normal" fill="#000" textLength="73.72" lengthAdjust="spacingAndGlyphs"  stroke="#000" stroke-width="0.45">2.00</text>
<text x="714.55" y="2953.10" font-size="37.5" font-weight="normal" fill="#000" textLength="73.72" lengthAdjust="spacingAndGlyphs"  stroke="#000" stroke-width="0.45">4.00</text>
<text x="938.82" y="2953.10" font-size="37.5" font-weight="normal" fill="#000" textLength="73.72" lengthAdjust="spacingAndGlyphs"  stroke="#000" stroke-width="0.45">6.00</text>
<text x="1163.76" y="2953.10" font-size="37.5" font-weight="normal" fill="#000" textLength="73.72" lengthAdjust="spacingAndGlyphs"  stroke="#000" stroke-width="0.45">8.00</text>
<text x="1377.41" y="2953.10" font-size="37.5" font-weight="normal" fill="#000" textLength="94.78" lengthAdjust="spacingAndGlyphs"  stroke="#000" stroke-width="0.45">10.00</text>
<text x="1602.21" y="2953.10" font-size="37.5" font-weight="normal" fill="#000" textLength="94.78" lengthAdjust="spacingAndGlyphs"  stroke="#000" stroke-width="0.45">12.00</text>
<text x="622.29" y="2287.30" font-size="45" font-weight="normal" fill="#000" textLength="760.05" lengthAdjust="spacingAndGlyphs"  stroke="#000" stroke-width="0.45">Dimming- 0-10Vdc VS Output Current</text>
<text x="230.97" y="2285.50" font-size="36" font-weight="normal" fill="#000" textLength="47.96" lengthAdjust="spacingAndGlyphs"  stroke="#000" stroke-width="0.45">(A)</text>
<text x="1735.11" y="2959.50" font-size="36" font-weight="normal" fill="#000" textLength="47.08" lengthAdjust="spacingAndGlyphs"  stroke="#000" stroke-width="0.45">(V)</text>
<rect x="321.30" y="2832.70" width="91.76" height="29.00" fill="#fff"/>
<rect x="424.00" y="2832.70" width="90.35" height="29.00" fill="#fff"/>
<rect x="555.80" y="2842.50" width="91.33" height="29.00" fill="#fff"/>
<rect x="668.80" y="2781.00" width="91.79" height="29.00" fill="#fff"/>
<rect x="774.10" y="2721.40" width="92.37" height="29.00" fill="#fff"/>
<rect x="901.00" y="2660.00" width="91.72" height="29.00" fill="#fff"/>
<rect x="1002.40" y="2604.80" width="91.31" height="29.00" fill="#fff"/>
<rect x="1111.50" y="2540.00" width="91.29" height="29.00" fill="#fff"/>
<rect x="1231.30" y="2471.30" width="91.59" height="29.00" fill="#fff"/>
<rect x="1335.00" y="2413.40" width="91.46" height="29.00" fill="#fff"/>
<rect x="1453.00" y="2398.40" width="111.42" height="29.00" fill="#fff"/>
<path d="M306.00,2886.70 C324.73,2886.70 380.93,2892.60 418.40,2886.70 C455.87,2880.80 493.33,2868.00 530.80,2851.30 C568.27,2834.60 605.73,2808.02 643.20,2786.50 C680.67,2764.98 718.13,2742.82 755.60,2722.20 C793.07,2701.58 830.53,2684.07 868.00,2662.80 C905.47,2641.53 942.93,2615.93 980.40,2594.60 C1017.87,2573.27 1055.33,2556.77 1092.80,2534.80 C1130.27,2512.83 1167.73,2486.05 1205.20,2462.80 C1242.67,2439.55 1280.13,2409.28 1317.60,2395.30 C1355.07,2381.32 1411.27,2381.63 1430.00,2378.90" fill="none" stroke="#000" stroke-width="4.2" stroke-linejoin="round"/>
<path d="M306.00,2872.90 L319.80,2886.70 L306.00,2900.50 L292.20,2886.70 Z" fill="#000"/>
<path d="M418.40,2872.90 L432.20,2886.70 L418.40,2900.50 L404.60,2886.70 Z" fill="#000"/>
<path d="M530.80,2837.50 L544.60,2851.30 L530.80,2865.10 L517.00,2851.30 Z" fill="#000"/>
<path d="M643.20,2772.70 L657.00,2786.50 L643.20,2800.30 L629.40,2786.50 Z" fill="#000"/>
<path d="M755.60,2708.40 L769.40,2722.20 L755.60,2736.00 L741.80,2722.20 Z" fill="#000"/>
<path d="M868.00,2649.00 L881.80,2662.80 L868.00,2676.60 L854.20,2662.80 Z" fill="#000"/>
<path d="M980.40,2580.80 L994.20,2594.60 L980.40,2608.40 L966.60,2594.60 Z" fill="#000"/>
<path d="M1092.80,2521.00 L1106.60,2534.80 L1092.80,2548.60 L1079.00,2534.80 Z" fill="#000"/>
<path d="M1205.20,2449.00 L1219.00,2462.80 L1205.20,2476.60 L1191.40,2462.80 Z" fill="#000"/>
<path d="M1317.60,2381.50 L1331.40,2395.30 L1317.60,2409.10 L1303.80,2395.30 Z" fill="#000"/>
<path d="M1430.00,2365.10 L1443.80,2378.90 L1430.00,2392.70 L1416.20,2378.90 Z" fill="#000"/>
<text x="329.82" y="2858.70" font-size="37.5" font-weight="normal" fill="#f00000" textLength="73.72" lengthAdjust="spacingAndGlyphs"  stroke="#f00000" stroke-width="0.45">0.00</text>
<text x="431.11" y="2858.70" font-size="37.5" font-weight="normal" fill="#f00000" textLength="73.72" lengthAdjust="spacingAndGlyphs"  stroke="#f00000" stroke-width="0.45">1.00</text>
<text x="563.90" y="2868.50" font-size="37.5" font-weight="normal" fill="#f00000" textLength="73.72" lengthAdjust="spacingAndGlyphs"  stroke="#f00000" stroke-width="0.45">2.00</text>
<text x="677.36" y="2807.00" font-size="37.5" font-weight="normal" fill="#f00000" textLength="73.72" lengthAdjust="spacingAndGlyphs"  stroke="#f00000" stroke-width="0.45">3.00</text>
<text x="783.23" y="2747.40" font-size="37.5" font-weight="normal" fill="#f00000" textLength="73.72" lengthAdjust="spacingAndGlyphs"  stroke="#f00000" stroke-width="0.45">4.00</text>
<text x="909.48" y="2686.00" font-size="37.5" font-weight="normal" fill="#f00000" textLength="73.72" lengthAdjust="spacingAndGlyphs"  stroke="#f00000" stroke-width="0.45">5.00</text>
<text x="1010.48" y="2630.80" font-size="37.5" font-weight="normal" fill="#f00000" textLength="73.72" lengthAdjust="spacingAndGlyphs"  stroke="#f00000" stroke-width="0.45">6.00</text>
<text x="1119.56" y="2566.00" font-size="37.5" font-weight="normal" fill="#f00000" textLength="73.72" lengthAdjust="spacingAndGlyphs"  stroke="#f00000" stroke-width="0.45">7.00</text>
<text x="1239.65" y="2497.30" font-size="37.5" font-weight="normal" fill="#f00000" textLength="73.72" lengthAdjust="spacingAndGlyphs"  stroke="#f00000" stroke-width="0.45">8.00</text>
<text x="1343.22" y="2439.40" font-size="37.5" font-weight="normal" fill="#f00000" textLength="73.72" lengthAdjust="spacingAndGlyphs"  stroke="#f00000" stroke-width="0.45">9.00</text>
<text x="1460.11" y="2424.40" font-size="37.5" font-weight="normal" fill="#f00000" textLength="94.78" lengthAdjust="spacingAndGlyphs"  stroke="#f00000" stroke-width="0.45">10.00</text>
<rect x="111" y="3134.8" width="2345" height="2.6" fill="#df3b3b"/>
<text x="124.95" y="3191.00" font-size="37.5" font-weight="normal" fill="#000" textLength="283.52" lengthAdjust="spacingAndGlyphs" >www.aimtec.com</text>
<text x="123.22" y="3234.40" font-size="33.85" font-weight="normal" fill="#000" textLength="205.10" lengthAdjust="spacingAndGlyphs" >F 052.1e R3.I</text>
<text x="1110.26" y="3192.30" font-size="37.5" font-weight="normal" fill="#000" textLength="356.03" lengthAdjust="spacingAndGlyphs" >Tel: +1 514 620 2722</text>
<text x="1229.64" y="3235.00" font-size="37.5" font-weight="normal" fill="#000" textLength="115.22" lengthAdjust="spacingAndGlyphs" >4 of 13</text>
<text x="1775.66" y="3192.00" font-size="37.5" font-weight="normal" fill="#000" textLength="658.37" lengthAdjust="spacingAndGlyphs" >Toll free: + 1 888 9 AIMTEC (924 6832)</text>
<text x="2182.81" y="3235.00" font-size="29.2" font-weight="normal" fill="#000" textLength="247.75" lengthAdjust="spacingAndGlyphs" >North America only</text>
</svg></body></html>
